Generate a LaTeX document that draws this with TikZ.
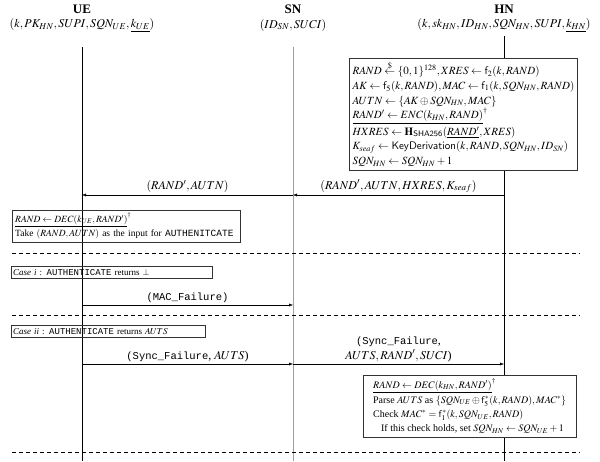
\documentclass[tikz,border=0pt]{standalone}
\usepackage{amsmath}
\usepackage{mathptmx}
\usepackage{fontspec}
\setmainfont{Liberation Serif}
\setsansfont{Liberation Sans}
\setmonofont{Liberation Mono}
\usetikzlibrary{positioning}
\usetikzlibrary{arrows.meta}
\newcommand{\msgtt}[1]{{\fontsize{10.5}{13}\selectfont\texttt{#1}}}
\tikzset{
    actor/.style = {font=\bfseries\fontsize{13}{15}\selectfont, inner sep=1pt},
    actorkeys/.style = {font=\fontsize{12}{14}\selectfont, inner sep=1pt},
    lifeline/.style = {-, thin, black},
    lifelineg/.style = {-, line width=1pt, gray!75},
    msg/.style = {-{Latex[length=4pt,width=3pt]}, thin, black},
    msglabel/.style = {above, font=\fontsize{12}{14.5}\selectfont, inner sep=2pt, align=center},
    hnbox/.style = {draw=black!80, fill=white, align=left, anchor=north west, inner ysep=4pt},
    uebox/.style = {draw=black!80, align=left, anchor=north west, inner ysep=3pt},
    sepline/.style = {-, thin, dash pattern=on 4pt off 3pt}
}

\begin{document}
\begin{tikzpicture}[x=1pt, y=-1pt]
  \useasboundingbox (0,0) rectangle (600,461);
  % parties
  \node[actor] (ue) at (82,9) {UE};
  \node[actor] (sn) at (293,9) {SN};
  \node[actor] (hn) at (504,9) {HN};
  \node[actorkeys] (uek) at (82,25) {$(k,PK_{HN},SUPI,SQN_{UE},\underline{k_{UE}})$};
  \node[actorkeys] (snk) at (293,25) {$(ID_{SN},SUCI)$};
  \node[actorkeys] (hnk) at (504,25) {$(k,sk_{HN},ID_{HN},SQN_{HN},SUPI,\underline{k_{HN}})$};
  % lifelines
  \coordinate (uetop) at (82,47);
  \coordinate (uebot) at (82,461);
  \coordinate (sntop) at (293,47);
  \coordinate (snbot) at (293,461);
  \coordinate (hntop) at (504,36);
  \coordinate (hnbot) at (504,461);
  \draw[lifeline] (uetop) -- (uebot);
  \draw[lifelineg] (sntop) -- (snbot);
  \draw[lifeline] (hntop) -- (hnbot);
  % HN prepares the challenge
  \node[hnbox, minimum width=227pt, inner ysep=3pt, font=\fontsize{11}{14.8}\selectfont] (hnprep) at (349,58) {%
    $RAND \stackrel{\$}{\leftarrow} \{0,1\}^{128}, XRES \leftarrow \mathsf{f}_2(k,RAND)$\\
    $AK \leftarrow \mathsf{f}_5(k,RAND), MAC \leftarrow \mathsf{f}_1(k,SQN_{HN},RAND)$\\
    $AUTN \leftarrow \{AK \oplus SQN_{HN}, MAC\}$\\
    $\underline{RAND' \leftarrow ENC(k_{HN},RAND)}^{\dagger}$\\[1.5pt]
    $HXRES \leftarrow \mathbf{H}_{\mathsf{SHA256}}(\underline{RAND'}, XRES)$\\
    $K_{seaf} \leftarrow \mathsf{KeyDerivation}(k,RAND,SQN_{HN},ID_{SN})$\\
    $SQN_{HN} \leftarrow SQN_{HN}+1$};
  % challenge
  \coordinate (hn-m1) at (504,195);
  \coordinate (sn-m1) at (293,195);
  \coordinate (ue-m1) at (82,195);
  \draw[msg] (hn-m1) -- node[msglabel] {$(RAND',AUTN,HXRES,K_{seaf})$} (sn-m1);
  \draw[msg] (sn-m1) -- node[msglabel] {$(RAND',AUTN)$} (ue-m1);
  % UE side
  \node[uebox, inner xsep=3pt, text width=222pt, font=\fontsize{9.5}{14}\selectfont] (uedec) at (12,210) {%
    $\underline{RAND \leftarrow DEC(k_{UE},RAND')}^{\dagger}$\\
    Take $(RAND,AUTN)$ as the input for \texttt{AUTHENITCATE}};
  \coordinate (sepal) at (12,253);
  \coordinate (separ) at (580,253);
  \draw[sepline] (sepal) -- (separ);
  % case i
  \node[uebox, inner xsep=2pt, text width=197pt, font=\fontsize{9}{11}\selectfont] (casei) at (11,266) {\textit{Case i} : \texttt{AUTHENTICATE} returns $\bot$};
  \coordinate (ue-m2) at (82,305);
  \coordinate (sn-m2) at (293,305);
  \draw[msg] (ue-m2) -- node[msglabel] {\msgtt{(MAC\_Failure)}} (sn-m2);
  \coordinate (sepbl) at (12,315);
  \coordinate (sepbr) at (580,315);
  \draw[sepline] (sepbl) -- (sepbr);
  % case ii
  \node[uebox, inner xsep=2pt, text width=190pt, font=\fontsize{9}{11}\selectfont] (caseii) at (11,325) {\textit{Case ii} : \texttt{AUTHENTICATE} returns $AUTS$};
  \coordinate (ue-m3) at (82,364);
  \coordinate (sn-m3) at (293,364);
  \coordinate (hn-m3) at (504,364);
  \draw[msg] (ue-m3) -- node[msglabel] {\msgtt{(Sync\_Failure}, $AUTS$)} (sn-m3);
  \draw[msg] (sn-m3) -- node[msglabel] {\msgtt{(Sync\_Failure},\\ $AUTS, RAND', SUCI$)} (hn-m3);
  % HN resynchronisation
  \node[hnbox, minimum width=213pt, inner ysep=3pt, font=\fontsize{10}{14.3}\selectfont] (hnsync) at (363,375) {%
    $\underline{RAND \leftarrow DEC(k_{HN},RAND')}^{\dagger}$\\[1pt]
    Parse $AUTS$ as $\{SQN_{UE} \oplus \mathsf{f}_5^{*}(k,RAND), MAC^{*}\}$\\
    Check $MAC^{*} = \mathsf{f}_1^{*}(k,SQN_{UE},RAND)$\\
    \hspace*{0.8em}If this check holds, set $SQN_{HN} \leftarrow SQN_{UE}+1$};
  \coordinate (sepcl) at (12,452);
  \coordinate (sepcr) at (580,452);
  \draw[sepline] (sepcl) -- (sepcr);
\end{tikzpicture}
\end{document}
